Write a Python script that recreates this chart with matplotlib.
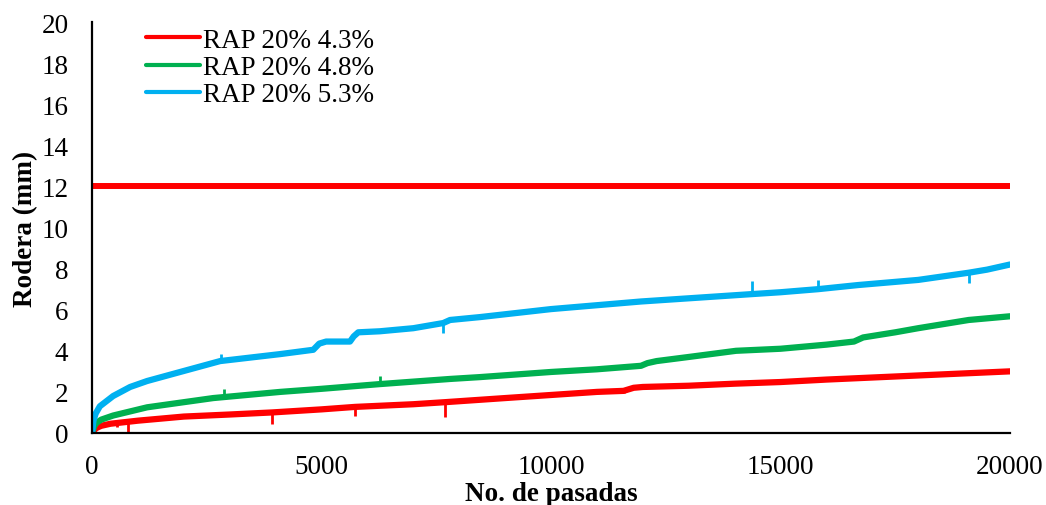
import matplotlib
matplotlib.use("Agg")
import matplotlib.pyplot as plt

# ---------------------------------------------------------------------------
# DATA
# ---------------------------------------------------------------------------
x_43 = [0, 50, 100, 200, 400, 800, 1000, 1500, 2000, 3000, 3920, 5000, 5730,
        7000, 7690, 9000, 10000, 11000, 11580, 11800, 12000, 13000, 14000,
        15000, 16000, 17000, 18000, 19000, 20000]
y_43 = [0.0, 0.15, 0.25, 0.35, 0.45, 0.55, 0.6, 0.7, 0.8, 0.9, 1.0, 1.15, 1.27,
        1.4, 1.5, 1.7, 1.85, 2.0, 2.05, 2.2, 2.24, 2.3, 2.4,
        2.48, 2.6, 2.7, 2.8, 2.9, 3.0]
spk_x_43 = [540, 790, 3920, 5730, 7690, 11590]
spk_y_43 = [0.3, 0.05, 0.45, 0.85, 0.8, 1.95]

x_48 = [0, 50, 100, 200, 460, 1200, 2000, 2640, 4100, 5000, 6270, 7000, 7800,
        8450, 10000, 11000, 11960, 12100, 12300, 13000, 14030, 15000, 16000,
        16600, 16800, 17500, 18000, 19100, 20000]
y_48 = [0.0, 0.35, 0.5, 0.65, 0.85, 1.25, 1.5, 1.7, 2.0, 2.15, 2.38, 2.5, 2.63,
        2.72, 2.97, 3.1, 3.27, 3.4, 3.5, 3.7, 4.0, 4.1, 4.3,
        4.45, 4.65, 4.9, 5.1, 5.5, 5.68]
spk_x_48 = [2880, 6270]
spk_y_48 = [2.15, 2.77]

x_53 = [0, 30, 80, 170, 460, 830, 1200, 1920, 2790, 4100, 4820, 4950, 5100,
        5620, 5700, 5800, 6270, 7000, 7650, 7800, 8450, 10000, 11960, 14380,
        15000, 15820, 16690, 18000, 19100, 19500, 20000]
y_53 = [0.0, 0.6, 0.95, 1.3, 1.8, 2.24, 2.53, 2.97, 3.5, 3.84, 4.05, 4.35, 4.45,
        4.45, 4.7, 4.9, 4.95, 5.1, 5.35, 5.5, 5.64, 6.03, 6.4, 6.76,
        6.85, 7.0, 7.2, 7.45, 7.8, 7.95, 8.2]
spk_x_53 = [2800, 7650, 14380, 15820, 19100]
spk_y_53 = [3.85, 4.85, 7.4, 7.45, 7.3]

x_limit = [0, 20000]
y_limit = [12, 12]

labels = ["RAP 20% 4.3%", "RAP 20% 4.8%", "RAP 20% 5.3%"]
colors = ["#FF0000", "#00B050", "#00B0F0"]

# ---------------------------------------------------------------------------
# PLOT
# ---------------------------------------------------------------------------
plt.rcParams["font.family"] = ["Liberation Serif", "DejaVu Serif"]
plt.rcParams["font.size"] = 19.5

fig = plt.figure(figsize=(10.46, 5.06), dpi=100)
ax = fig.add_axes([0.088, 0.1423, 0.8776, 0.8122])

ax.plot(x_limit, y_limit, color=colors[0], lw=4.3, solid_capstyle="butt")
series = [(x_43, y_43, spk_x_43, spk_y_43),
          (x_48, y_48, spk_x_48, spk_y_48),
          (x_53, y_53, spk_x_53, spk_y_53)]
for (xs, ys, sx, sy), lab, c in zip(series, labels, colors):
    ax.plot(xs, ys, color=c, lw=4.5, label=lab, solid_joinstyle="round",
            solid_capstyle="round")
    base = [ys[xs.index(min(xs, key=lambda v: abs(v - s)))] for s in sx]
    ax.vlines(sx, base, sy, color=c, lw=2)

ax.set_xlim(0, 20000)
ax.set_ylim(0, 20)
ax.set_xticks([0, 5000, 10000, 15000, 20000])
ax.set_yticks(range(0, 21, 2))
ax.tick_params(length=0)
ax.tick_params(axis="x", pad=15)
ax.tick_params(axis="y", pad=17)
for s in ["top", "right"]:
    ax.spines[s].set_visible(False)
for s in ["left", "bottom"]:
    ax.spines[s].set_linewidth(1.6)
    ax.spines[s].set_color("black")

ax.set_xlabel("No. de pasadas", fontweight="bold", labelpad=1.5)
ax.set_ylabel("Rodera (mm)", fontweight="bold", labelpad=2)

leg = ax.legend(loc="upper left", bbox_to_anchor=(0.047, 1.012), frameon=False,
                handlelength=2.0, handletextpad=0.12, labelspacing=0.08,
                borderaxespad=0)
for h in leg.get_lines():
    h.set_linewidth(3)

fig.savefig("out.png", dpi=100)
